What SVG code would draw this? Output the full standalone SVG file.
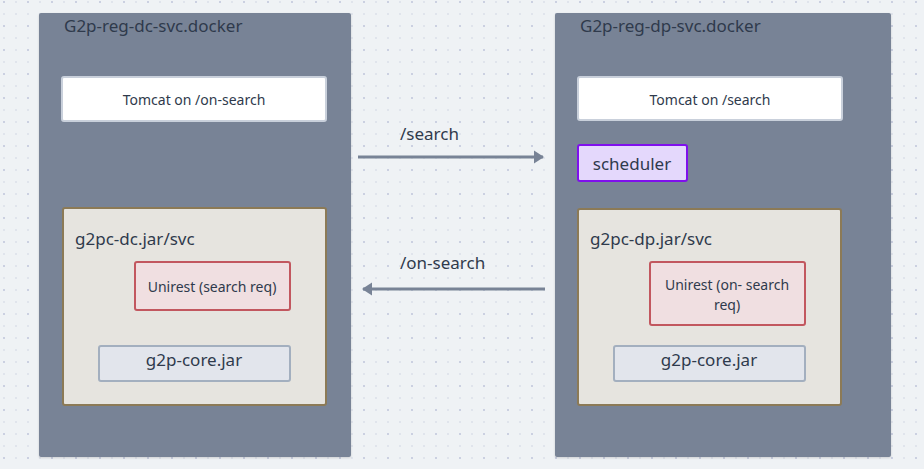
<svg xmlns="http://www.w3.org/2000/svg" width="924" height="469" viewBox="0 0 924 469">
<defs>
<pattern id="dots" x="3" y="1" width="12" height="12" patternUnits="userSpaceOnUse">
<rect x="0" y="0" width="2" height="2" fill="#e0e4ec"/>
</pattern>
<pattern id="dots2" x="3" y="1" width="24" height="24" patternUnits="userSpaceOnUse">
<rect x="0" y="0" width="2" height="2" fill="#cbd0e1"/>
</pattern>
<marker id="arr" viewBox="0 0 10 10" refX="9" refY="5" markerWidth="3.4" markerHeight="4.4" orient="auto" markerUnits="strokeWidth" preserveAspectRatio="none">
<path d="M0,0 L10,5 L0,10 Z" fill="#788396"/>
</marker>
<filter id="sh" x="-5%" y="-5%" width="110%" height="110%">
<feDropShadow dx="0" dy="1" stdDeviation="1" flood-color="#000" flood-opacity="0.15"/>
</filter>
</defs>
<style>
text{font-family:"Noto Sans","Liberation Sans",sans-serif;fill:#2f3a4c}
.container{fill:#788396}
.title{font-size:17px}
.tomcat{fill:#ffffff;stroke:#c9d0db;stroke-width:2}
.jar{fill:#e6e4df;stroke:#8c7a56;stroke-width:2}
.unirest{fill:#f0dfe1;stroke:#c2575f;stroke-width:2}
.core{fill:#e2e5ec;stroke:#a3afbf;stroke-width:2}
.sched{fill:#e4d8fc;stroke:#7f10ec;stroke-width:2}
.t13{font-size:14px;text-anchor:middle}
.t15{font-size:17px}
.c{text-anchor:middle}
.edge{stroke:#788396;stroke-width:3;fill:none}
</style>
<rect width="924" height="469" fill="#eff2f5"/>
<rect width="924" height="469" fill="url(#dots)"/>
<rect width="924" height="469" fill="url(#dots2)"/>

<g id="dc-docker">
<rect class="container" x="39" y="13" width="312" height="444" rx="2" filter="url(#sh)"/>
<text class="title" x="64" y="32">G2p-reg-dc-svc.docker</text>
</g>
<g id="dc-tomcat">
<rect class="tomcat" x="62" y="77" width="264" height="44" rx="2"/>
<text class="t13" x="194" y="105">Tomcat on /on-search</text>
</g>
<g id="dc-jar">
<rect class="jar" x="63" y="208" width="263" height="197" rx="2"/>
<text class="t15" x="75" y="245">g2pc-dc.jar/svc</text>
</g>
<g id="dc-unirest">
<rect class="unirest" x="135" y="262" width="155" height="48" rx="2"/>
<text class="t13" x="212" y="292">Unirest (search req)</text>
</g>
<g id="dc-core">
<rect class="core" x="99" y="346" width="191" height="35" rx="2"/>
<text class="t15 c" x="194" y="366">g2p-core.jar</text>
</g>

<g id="dp-docker">
<rect class="container" x="555" y="13" width="336" height="444" rx="2" filter="url(#sh)"/>
<text class="title" x="580" y="32">G2p-reg-dp-svc.docker</text>
</g>
<g id="dp-tomcat">
<rect class="tomcat" x="578" y="77" width="264" height="43" rx="2"/>
<text class="t13" x="710" y="105">Tomcat on /search</text>
</g>
<g id="dp-scheduler">
<rect class="sched" x="578" y="145" width="109" height="36" rx="2"/>
<text class="t15 c" x="632" y="170">scheduler</text>
</g>
<g id="dp-jar">
<rect class="jar" x="578" y="209" width="263" height="196" rx="2"/>
<text class="t15" x="590" y="245">g2pc-dp.jar/svc</text>
</g>
<g id="dp-unirest">
<rect class="unirest" x="650" y="262" width="155" height="63" rx="2"/>
<text class="t13" x="727" y="290">Unirest (on- search</text>
<text class="t13" x="727" y="310">req)</text>
</g>
<g id="dp-core">
<rect class="core" x="614" y="346" width="191" height="35" rx="2"/>
<text class="t15 c" x="709" y="366">g2p-core.jar</text>
</g>

<g id="connectors">
<line class="edge" x1="358" y1="157" x2="543" y2="157" marker-end="url(#arr)"/>
<text class="t15" x="400" y="140">/search</text>
<line class="edge" x1="545" y1="289" x2="363" y2="289" marker-end="url(#arr)"/>
<text class="t15" x="400" y="269">/on-search</text>
</g>
</svg>
